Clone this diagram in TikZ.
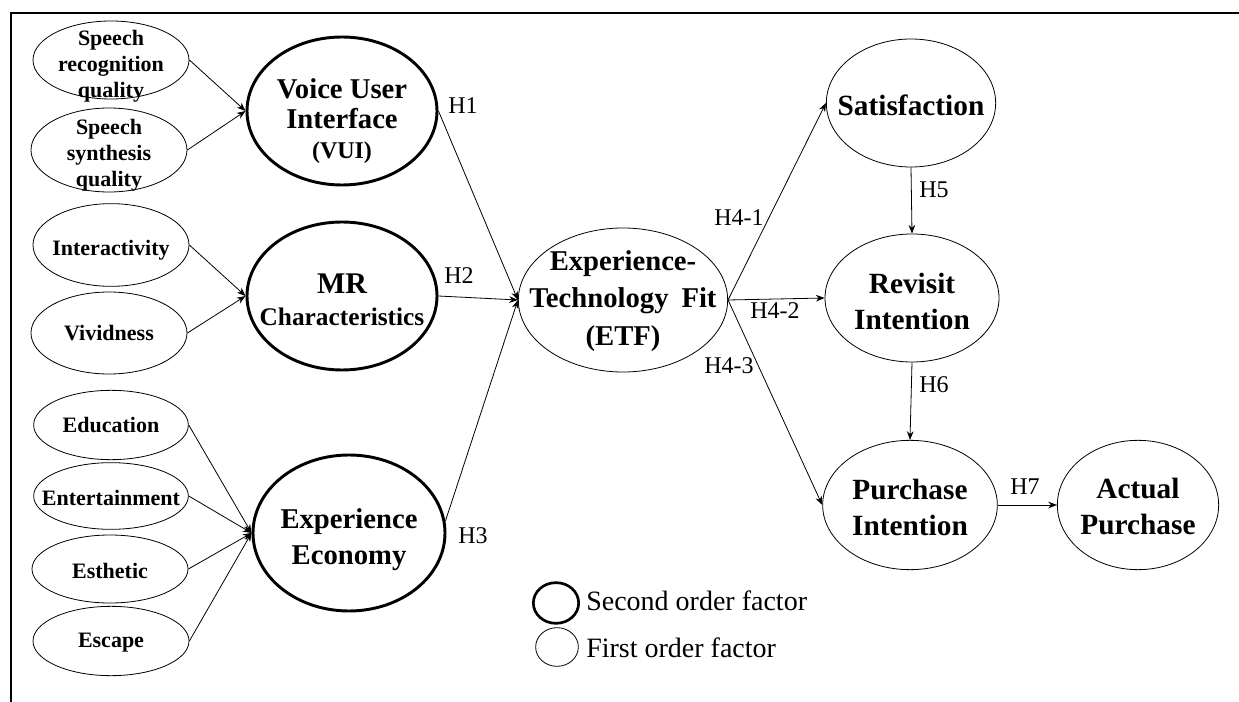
\documentclass[tikz,border=0pt]{standalone}
\usepackage{fontspec}
\setmainfont{Liberation Serif}
\usetikzlibrary{arrows.meta,shapes.geometric}
\begin{document}
\begin{tikzpicture}[x=0.75pt,y=-0.75pt,
  fo/.style={draw, ellipse, line width=0.6pt, inner sep=0pt},
  so/.style={draw, ellipse, line width=2.2pt, inner sep=0pt},
  small/.style={font=\bfseries\fontsize{16.5}{19.5}\selectfont, align=center, inner sep=0pt},
  big/.style={font=\bfseries\fontsize{21.5}{26}\selectfont, align=center, inner sep=0pt},
  hyp/.style={font=\fontsize{18}{20}\selectfont, inner sep=0pt},
  legt/.style={font=\fontsize{21}{24}\selectfont, inner sep=0pt, anchor=west},
  arr/.style={-{Stealth[length=6.5pt,width=5pt]}, line width=0.6pt},
]
\useasboundingbox (0,0) rectangle (1239,702);
\draw[line width=1.5pt] (11,702) -- (11,13) -- (1239,13);

% first-order indicators
\node[fo, minimum width=117pt, minimum height=58.5pt] (sr) at (111,60) {};
\node[small] (srt) at (111,66) {Speech\\recognition\\quality};
\node[fo, minimum width=117pt, minimum height=63pt] (ss) at (109,150) {};
\node[small] (sst) at (109,155) {Speech\\synthesis\\quality};
\node[fo, minimum width=117pt, minimum height=62pt] (int) at (111,245) {};
\node[small] (intt) at (111,250) {Interactivity};
\node[fo, minimum width=117pt, minimum height=61.5pt] (viv) at (109,333) {};
\node[small] (vivt) at (109,333) {Vividness};
\node[fo, minimum width=116pt, minimum height=52pt] (edu) at (111,425) {};
\node[small] (edut) at (111,425) {Education};
\node[fo, minimum width=116pt, minimum height=50pt] (ent) at (111,496) {};
\node[small] (entt) at (111,498) {Entertainment};
\node[fo, minimum width=117pt, minimum height=51pt] (est) at (110,569) {};
\node[small] (estt) at (110,571) {Esthetic};
\node[fo, minimum width=117pt, minimum height=52pt] (esc) at (111,641) {};
\node[small] (esct) at (111,643) {Escape};

% second-order factors
\node[so, minimum width=142.5pt, minimum height=111pt] (vui) at (342,111) {};
\node[big, font=\bfseries\fontsize{21.5}{22.5}\selectfont] (vuit) at (342,121) {Voice User\\Interface\\{\fontsize{18}{20}\selectfont (VUI)}};
\node[so, minimum width=142.5pt, minimum height=111pt] (mr) at (342,296) {};
\node[big, font=\bfseries\fontsize{19}{24}\selectfont] (mrt) at (342,300) {{\fontsize{22.5}{24}\selectfont MR}\\Characteristics};
\node[so, minimum width=144pt, minimum height=117pt] (ee) at (349,533) {};
\node[big, font=\bfseries\fontsize{21.5}{27}\selectfont] (eet) at (349,540) {Experience\\Economy};

% outcome constructs
\node[fo, minimum width=157pt, minimum height=108pt] (etf) at (623,300) {};
\node[big, font=\bfseries\fontsize{21.5}{28}\selectfont] (etft) at (623,301) {Experience-\\Technology\hspace{0.45em}Fit\\(ETF)};
\node[fo, minimum width=127pt, minimum height=96pt] (sat) at (911,103) {};
\node[big, font=\bfseries\fontsize{22}{27}\selectfont] (satt) at (911,105) {Satisfaction};
\node[fo, minimum width=130.5pt, minimum height=96pt] (rev) at (912,298) {};
\node[big, font=\bfseries\fontsize{22}{27}\selectfont] (revt) at (912,301) {Revisit\\Intention};
\node[fo, minimum width=131pt, minimum height=97pt] (pi) at (910,505) {};
\node[big, font=\bfseries\fontsize{22}{27}\selectfont] (pit) at (910,507) {Purchase\\Intention};
\node[fo, minimum width=121pt, minimum height=97pt] (ap) at (1138,505) {};
\node[big, font=\bfseries\fontsize{22}{27}\selectfont] (apt) at (1138,507) {Actual\\Purchase};

% measurement arrows
\draw[arr] (sr.east) -- (vui.west);
\draw[arr] (ss.east) -- (vui.west);
\draw[arr] (int.east) -- (mr.west);
\draw[arr] (viv.east) -- (mr.west);
\draw[arr] (edu.east) -- (ee.west);
\draw[arr] (ent.east) -- (ee.west);
\draw[arr] (est.east) -- (ee.west);
\draw[arr] (esc.east) -- (ee.west);

% structural arrows
\draw[arr] (vui.east) -- (etf.west);
\draw[arr] (mr.east) -- (etf.west);
\draw[arr] (ee.7) -- (etf.west);
\draw[arr] (etf.east) -- (sat.west);
\draw[arr] (etf.east) -- (rev.west);
\draw[arr] (etf.east) -- (pi.west);
\draw[arr] (sat.south) -- (rev.north);
\draw[arr] (rev.south) -- (pi.north);
\draw[arr] (pi.east) -- (ap.west);

% hypothesis labels
\node[hyp] (h1) at (463,106) {H1};
\node[hyp] (h2) at (459,276) {H2};
\node[hyp] (h3) at (473,536) {H3};
\node[hyp] (h41) at (739,218) {H4-1};
\node[hyp] (h42) at (775,311) {H4-2};
\node[hyp] (h43) at (729,366) {H4-3};
\node[hyp] (h5) at (934,190) {H5};
\node[hyp] (h6) at (934,385) {H6};
\node[hyp] (h7) at (1025,487) {H7};

% legend
\node[so, line width=2pt, minimum width=34pt, minimum height=30.5pt] (leg1) at (556,603) {};
\node[legt] (leg1t) at (586,601) {Second order factor};
\node[fo, minimum width=32pt, minimum height=29pt] (leg2) at (557,647) {};
\node[legt] (leg2t) at (586,648) {First order factor};
\end{tikzpicture}
\end{document}
